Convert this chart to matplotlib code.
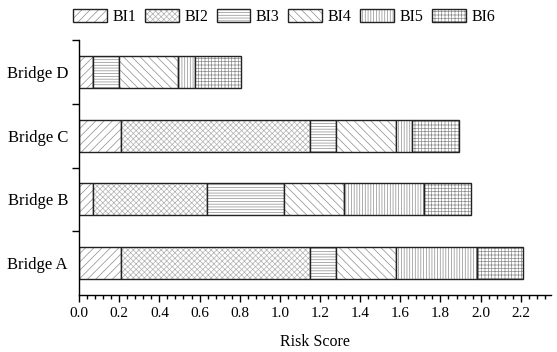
import numpy as np
import matplotlib.pyplot as plt
from matplotlib.patches import Patch
from matplotlib.ticker import MultipleLocator, FixedLocator

plt.rcParams['font.family'] = 'Liberation Serif'
plt.rcParams['hatch.linewidth'] = 0.5

bridges = ["Bridge A", "Bridge B", "Bridge C", "Bridge D"]
indicators = ["BI1", "BI2", "BI3", "BI4", "BI5", "BI6"]

# risk score contribution of each indicator, one list per bridge
bi1 = [0.21, 0.07, 0.21, 0.07]
bi2 = [0.94, 0.565, 0.94, 0.0]
bi3 = [0.13, 0.385, 0.13, 0.13]
bi4 = [0.30, 0.30, 0.30, 0.295]
bi5 = [0.40, 0.40, 0.08, 0.08]
bi6 = [0.23, 0.23, 0.23, 0.23]

hatches = ["////", "xxxxxx", "------", "\\\\\\\\", "||||||", "+++++"]
hatch_cols = ["#8c8c8c", "#b0b0b0", "#8c8c8c", "#8c8c8c", "#8c8c8c", "#8c8c8c"]

fig = plt.figure(figsize=(5.57, 3.52), dpi=100)
ax = fig.add_axes([0.142, 0.162, 0.847, 0.724])

y = np.arange(len(bridges))
left = np.zeros(len(bridges))
handles = []
for name, vals, h, hc in zip(indicators, [bi1, bi2, bi3, bi4, bi5, bi6], hatches, hatch_cols):
    vals = np.array(vals)
    ax.barh(y, vals, left=left, height=0.5, color="white",
            edgecolor=hc, hatch=h, linewidth=0)
    ax.barh(y, vals, left=left, height=0.5, fill=False,
            edgecolor="#222222", linewidth=1.0)
    left += vals
    handles.append((Patch(facecolor="white", edgecolor=hc, hatch=h, linewidth=0),
                    Patch(fill=False, edgecolor="#222222", linewidth=1.0)))

ax.set_xlim(0, 2.35)
ax.set_ylim(-0.5, 3.5)
ax.xaxis.set_major_locator(MultipleLocator(0.2))
ax.xaxis.set_minor_locator(MultipleLocator(0.04))
ax.set_yticks(y)
ax.set_yticklabels(bridges, fontsize=12)
ax.yaxis.set_minor_locator(FixedLocator([0.5, 1.5, 2.5, 3.5]))
ax.tick_params(axis="y", which="major", length=0, pad=8)
ax.tick_params(axis="y", which="minor", length=5, width=1)
ax.tick_params(axis="x", which="major", length=5, width=1, labelsize=11)
ax.tick_params(axis="x", which="minor", length=3, width=1)
ax.set_xticklabels([f"{v:.1f}" for v in ax.get_xticks()])
ax.set_xlabel("Risk Score", fontsize=11.5, labelpad=10)

for s in ["top", "right"]:
    ax.spines[s].set_visible(False)
for s in ["left", "bottom"]:
    ax.spines[s].set_linewidth(1.0)

fig.legend(handles, indicators, loc="center", bbox_to_anchor=(0.51, 0.952),
           ncol=6, frameon=False, fontsize=11.5, handlelength=2.1,
           handleheight=0.9, handletextpad=0.35, columnspacing=0.55)

fig.savefig("out.png", dpi=100)
